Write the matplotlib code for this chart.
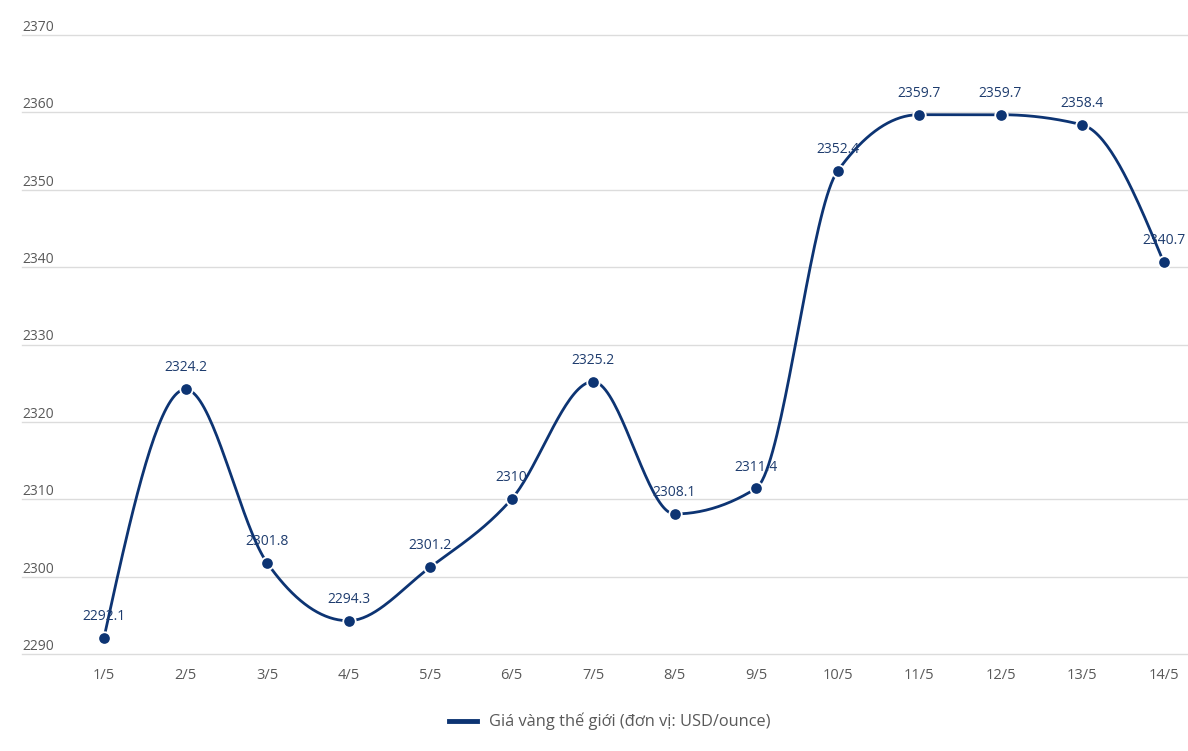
import numpy as np
import matplotlib
matplotlib.use("Agg")
import matplotlib.pyplot as plt

categories = ["1/5", "2/5", "3/5", "4/5", "5/5", "6/5", "7/5", "8/5", "9/5", "10/5", "11/5", "12/5", "13/5", "14/5"]
values = [2292.1, 2324.2, 2301.8, 2294.3, 2301.2, 2310, 2325.2, 2308.1, 2311.4, 2352.4, 2359.7, 2359.7, 2358.4, 2340.7]
value_labels = ["2292.1", "2324.2", "2301.8", "2294.3", "2301.2", "2310", "2325.2", "2308.1", "2311.4", "2352.4", "2359.7", "2359.7", "2358.4", "2340.7"]
y_ticks = [2290, 2300, 2310, 2320, 2330, 2340, 2350, 2360, 2370]
legend_label = "Giá vàng thế giới (đơn vị: USD/ounce)"

LINE = "#0d3473"
GRID = "#dcdcdc"
TICK = "#595959"
LABEL = "#1e3c6e"


def monotone_curve(x, y, n=40):
    x = np.asarray(x, float)
    y = np.asarray(y, float)
    h = np.diff(x)
    s = np.diff(y) / h
    m = np.zeros_like(y)
    for i in range(1, len(y) - 1):
        s0, s1 = s[i - 1], s[i]
        p = (s0 * h[i] + s1 * h[i - 1]) / (h[i - 1] + h[i])
        m[i] = (np.sign(s0) + np.sign(s1)) * min(abs(s0), abs(s1), 0.5 * abs(p))
    m[0] = (3 * s[0] - m[1]) / 2
    m[-1] = (3 * s[-1] - m[-2]) / 2
    xs, ys = [], []
    for i in range(len(y) - 1):
        t = np.linspace(0, 1, n)
        h00 = 2 * t**3 - 3 * t**2 + 1
        h10 = t**3 - 2 * t**2 + t
        h01 = -2 * t**3 + 3 * t**2
        h11 = t**3 - t**2
        xs.append(x[i] + t * h[i])
        ys.append(h00 * y[i] + h10 * h[i] * m[i] + h01 * y[i + 1] + h11 * h[i] * m[i + 1])
    return np.concatenate(xs), np.concatenate(ys)


W, H = 1188, 751
fig = plt.figure(figsize=(W / 100, H / 100), dpi=100)
left_px, right_px, top_px, bottom_px = 22, 1188, 35, 654
ax = fig.add_axes([left_px / W, 1 - bottom_px / H, (right_px - left_px) / W, (bottom_px - top_px) / H])

x = np.arange(len(categories))
step = 81.5
x0_px = 104
ax.set_xlim(-(x0_px - left_px) / step, (right_px - x0_px) / step)
ax.set_ylim(2290, 2370)

for yt in y_ticks:
    ax.axhline(yt, color=GRID, lw=1.0, zorder=0, clip_on=False)
    ax.text(0.0, yt, str(yt), transform=ax.get_yaxis_transform(), ha="left", va="bottom",
            fontsize=10, color=TICK, family="Open Sans")

cx, cy = monotone_curve(x, values)
ax.plot(cx, cy, color=LINE, lw=2.0, zorder=2, solid_capstyle="round")
ax.plot(x, values, "o", color=LINE, ms=9, mec="white", mew=1.3, zorder=3)

for xi, v, lab in zip(x, values, value_labels):
    ax.annotate(lab, (xi, v), xytext=(0, 10), textcoords="offset points", ha="center", va="bottom",
                fontsize=10, color=LABEL, family="Open Sans", zorder=4)

for xi, c in zip(x, categories):
    ax.text(xi, -0.022, c, transform=ax.get_xaxis_transform(),
            ha="center", va="top", fontsize=10.5, color=TICK, family="Open Sans")

for sp in ax.spines.values():
    sp.set_visible(False)
ax.set_xticks([])
ax.set_yticks([])

# legend
fig.lines.append(plt.Line2D([449 / W, 477 / W], [1 - 721 / H] * 2, color=LINE, lw=3.5, transform=fig.transFigure))
fig.text(489 / W, 1 - 721 / H, legend_label, ha="left", va="center", fontsize=11.8, color=TICK, family="Open Sans")

fig.savefig("out.png", dpi=100)
